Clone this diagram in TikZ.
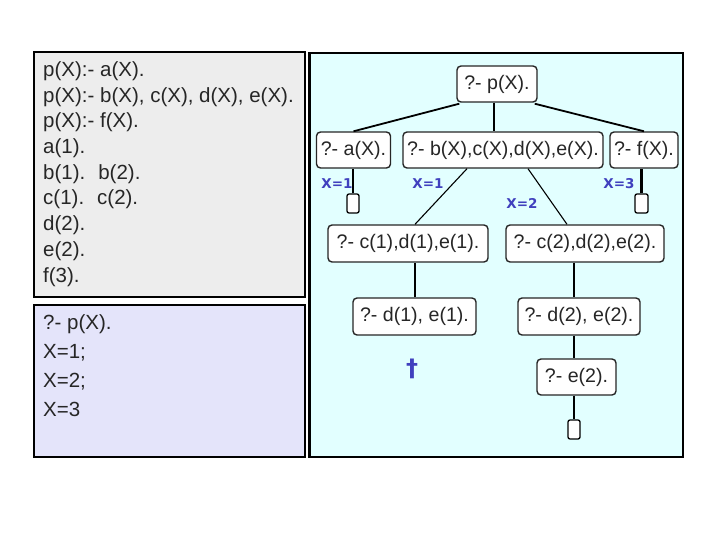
\documentclass[tikz,border=0pt]{standalone}
\usepackage{fontspec}
\setmainfont{Liberation Sans}
\newfontfamily\djv{DejaVu Sans}
\definecolor{graybg}{HTML}{EDEDED}
\definecolor{lavbg}{HTML}{E4E4FA}
\definecolor{cyanbg}{HTML}{E2FFFF}
\definecolor{txt}{HTML}{262626}
\definecolor{lblue}{RGB}{64,64,190}
\begin{document}
\begin{tikzpicture}[x=1pt,y=-1pt,
  panel/.style={draw=black,line width=1.4pt},
  codeline/.style={anchor=base west,inner sep=0pt,text=txt,font=\fontsize{20.5}{24}\selectfont},
  goal/.style={draw=black!85,line width=1.4pt,rounded corners=4pt,fill=white,inner sep=0pt,
    minimum height=36pt,text=txt,font=\fontsize{19.6}{22}\selectfont},
  leaf/.style={draw=black,line width=1.3pt,rounded corners=2pt,fill=white,inner sep=0pt,
    minimum width=12pt,minimum height=19pt},
  thick edge/.style={line width=2.6pt},
  mid edge/.style={line width=1.8pt},
  thin edge/.style={line width=1.1pt},
  xlab/.style={text=lblue,font=\djv\bfseries\fontsize{13.5}{15}\selectfont,inner sep=0pt}]
\useasboundingbox (0,0) rectangle (720,540);
% panels
\draw[panel,fill=graybg] (34,52) rectangle (305,297);
\draw[panel,fill=lavbg] (34,305) rectangle (305,457);
\draw[panel,fill=cyanbg] (309,53) rectangle (683,457);
\draw[line width=3pt] (309,52.3) -- (309,457.7);
% program text
\node[codeline] (l1) at (43,76.5) {p(X):- a(X).};
\node[codeline] (l2) at (43,102.2) {p(X):- b(X), c(X), d(X), e(X).};
\node[codeline] (l3) at (43,127.9) {p(X):- f(X).};
\node[codeline] (l4) at (43,153.6) {a(1).};
\node[codeline] (l5) at (43,179.3) {b(1).\hspace*{13pt}b(2).};
\node[codeline] (l6) at (43,205) {c(1).\hspace*{13pt}c(2).};
\node[codeline] (l7) at (43,230.7) {d(2).};
\node[codeline] (l8) at (43,256.4) {e(2).};
\node[codeline] (l9) at (43,282.1) {f(3).};
% query text
\node[codeline] (q1) at (43,329) {?- p(X).};
\node[codeline] (q2) at (43,358) {X=1;};
\node[codeline] (q3) at (43,387) {X=2;};
\node[codeline] (q4) at (43,416) {X=3};
% tree nodes
\node[goal,minimum width=80pt] (root) at (497,84) {?- p(X).};
\node[goal,minimum width=74pt] (a) at (353.5,150) {?- a(X).};
\node[goal,minimum width=200pt] (b) at (503,150) {?- b(X),c(X),d(X),e(X).};
\node[goal,minimum width=68pt] (f) at (644,150) {?- f(X).};
\node[goal,minimum width=160pt,minimum height=37pt] (c1) at (408,243.5) {?- c(1),d(1),e(1).};
\node[goal,minimum width=158pt,minimum height=37pt] (c2) at (585,243.5) {?- c(2),d(2),e(2).};
\node[goal,minimum width=123pt,minimum height=37pt] (d1) at (414.5,316.5) {?- d(1), e(1).};
\node[goal,minimum width=122pt,minimum height=37pt] (d2) at (579,316.5) {?- d(2), e(2).};
\node[goal,minimum width=79pt] (e2) at (576.5,377) {?- e(2).};
\node[leaf] (sa) at (353,203.5) {};
\node[leaf,minimum width=13pt] (sf) at (641.5,203.5) {};
\node[leaf] (se) at (574,429.5) {};
% edges
\draw[mid edge] ([xshift=3pt,yshift=-1pt]root.south west) -- (a.north);
\draw[mid edge] ([xshift=-3pt,yshift=-1pt]root.south east) -- (f.north);
\draw[thick edge] ([xshift=-3pt]root.south) -- ([xshift=-3pt]root.south |- b.north);
\draw[thick edge] (sa.north) -- (sa.north |- a.south);
\draw[thick edge] (sf.north) -- (sf.north |- f.south);
\draw[thin edge] ([xshift=-36pt]b.south) -- ([xshift=7pt]c1.north);
\draw[thin edge] ([xshift=25pt]b.south) -- ([xshift=-18pt]c2.north);
\draw[thick edge] ([xshift=0.5pt]d1.north) -- ([xshift=0.5pt]d1.north |- c1.south);
\draw[thick edge] (se.north |- c2.south) -- (se.north |- d2.north);
\draw[thick edge] (se.north |- d2.south) -- (se.north |- e2.north);
\draw[thick edge] (se.north |- e2.south) -- (se.north);
% labels
\node[xlab] (x1a) at (337,184) {X=1};
\node[xlab] (x1b) at (428,184) {X=1};
\node[xlab] (x2) at (522,203) {X=2};
\node[xlab] (x3) at (619,184) {X=3};
\node[text=lblue,font=\djv\bfseries\fontsize{24}{26}\selectfont,inner sep=0pt] (dag) at (412,369) {†};
\end{tikzpicture}
\end{document}
